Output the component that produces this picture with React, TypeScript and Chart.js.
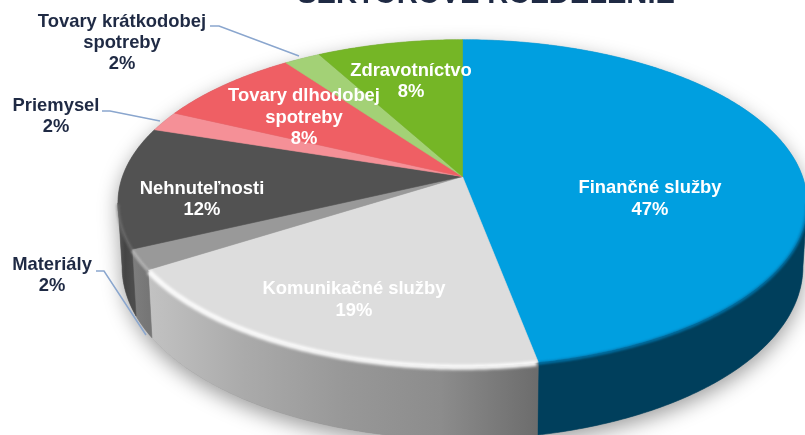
import React, { useEffect, useRef } from "react";
import { Chart, PieController, ArcElement } from "chart.js";

const TITLE = "SEKTOROVÉ ROZDELENIE";
const categories = [
  "Finančné služby",
  "Komunikačné služby",
  "Materiály",
  "Nehnuteľnosti",
  "Priemysel",
  "Tovary dlhodobej spotreby",
  "Tovary krátkodobej spotreby",
  "Zdravotníctvo",
];
const values = [47, 19, 2, 12, 2, 8, 2, 8];
const topColors = ["#009FE0", "#DDDDDD", "#999999", "#525252", "#F59097", "#EF5F64", "#A3D176", "#75B626"];

// styling / layout tables (not data)
const wallStops: string[][] = [
  ["#003F5C", "#003F5C"],
  ["#C2C2C2", "#AAAAAA", "#989898", "#8C8C8C", "#6C6C6C"],
  ["#7E7E7E", "#767676"],
  ["#5A5A5A", "#444444", "#4C4C4C"],
  ["#888888", "#888888"],
  ["#888888", "#888888"],
  ["#888888", "#888888"],
  ["#888888", "#888888"],
];
const rimColors = ["rgba(0,120,175,0.9)", "rgba(255,255,255,0.95)", "rgba(190,190,190,0.8)", "rgba(120,120,120,0.6)"];
const labelBoxes: [number, number, number, string][] = [
  [650, 188, 22, "#FFFFFF"],
  [354, 289, 22, "#FFFFFF"],
  [52, 265, 21, "#1F2A44"],
  [202, 189, 21, "#FFFFFF"],
  [56, 106, 21, "#1F2A44"],
  [304, 96, 21.5, "#FFFFFF"],
  [122, 22, 21, "#1F2A44"],
  [411, 71, 21, "#FFFFFF"],
];
const leaders: number[][][] = [
  [[210, 26], [219, 26], [299, 56]],
  [[102, 111], [110, 111], [160, 121]],
  [[96, 271], [104, 271], [146, 335]],
];

const CX = 462.5;
const CY = 176.5;
const A = 340;
const B = 159;
const K = 0.162;
const FRONT_START = Math.asin(K); // silhouette tangents in chart angles
const FRONT_END = Math.PI - FRONT_START;

function project(alpha: number): [number, number] {
  const u = Math.cos(alpha);
  const v = Math.sin(alpha);
  const w = 1 - K * v;
  return [CX + (A * u) / w, CY + (B * v) / w];
}
function projectLow(alpha: number): [number, number] {
  const [x, y] = project(alpha);
  const v = Math.sin(alpha);
  return [CX + (x - CX) * 0.988, y + 62 + 11 * v];
}
function samples(a0: number, a1: number): number[] {
  const n = Math.max(2, Math.ceil(Math.abs(a1 - a0) / 0.01));
  const out: number[] = [];
  for (let i = 0; i <= n; i++) out.push(a0 + ((a1 - a0) * i) / n);
  return out;
}
const norm = (a: number) => {
  let r = a;
  while (r < -Math.PI / 2) r += Math.PI * 2;
  return r;
};

class PerspectiveArc extends ArcElement {
  static id = "perspectiveArc";
  draw(ctx: CanvasRenderingContext2D) {
    const { startAngle, endAngle } = this as any;
    ctx.save();
    ctx.beginPath();
    ctx.moveTo(CX, CY);
    for (const a of samples(startAngle, endAngle)) {
      const [x, y] = project(a);
      ctx.lineTo(x, y);
    }
    ctx.closePath();
    ctx.fillStyle = (this as any).options.backgroundColor;
    ctx.strokeStyle = (this as any).options.backgroundColor;
    ctx.lineWidth = 0.6;
    ctx.fill();
    ctx.stroke();
    ctx.restore();
  }
}

class PerspectivePie extends PieController {
  static id = "perspectivePie";
  static defaults = { dataElementType: "perspectiveArc" };
}

Chart.register(PerspectiveArc, PerspectivePie);

const frontRange = (el: any): [number, number] | null => {
  const s = norm(el.startAngle);
  const e = s + (el.endAngle - el.startAngle);
  const a0 = Math.max(s, FRONT_START);
  const a1 = Math.min(e, FRONT_END);
  return a1 > a0 ? [a0, a1] : null;
};

const pie3d = {
  id: "pie3d",
  beforeDatasetsDraw(chart: any) {
    const ctx: CanvasRenderingContext2D = chart.ctx;
    const els = chart.getDatasetMeta(0).data;
    // soft ground shadow under the silhouette
    ctx.save();
    ctx.beginPath();
    for (const a of samples(FRONT_START, FRONT_END)) {
      const [x, y] = projectLow(a);
      ctx.lineTo(x, y);
    }
    for (const a of samples(FRONT_END, FRONT_START + Math.PI * 2)) {
      const [x, y] = project(a);
      ctx.lineTo(x, y);
    }
    ctx.closePath();
    ctx.shadowColor = "rgba(0,0,0,0.38)";
    ctx.shadowBlur = 20;
    ctx.shadowOffsetY = 7;
    ctx.fillStyle = "#888";
    ctx.fill();
    ctx.restore();
    // side walls
    els.forEach((el: any, i: number) => {
      const r = frontRange(el);
      if (!r) return;
      const pts = samples(r[0], r[1]);
      const top = pts.map(project);
      const low = pts.map(projectLow).reverse();
      const xs = top.map((p) => p[0]);
      const g = ctx.createLinearGradient(Math.min(...xs), 0, Math.max(...xs), 0);
      const stops = wallStops[i];
      // walls run right to left in angle order; stops are listed left to right
      stops.forEach((c, j) => g.addColorStop(j / (stops.length - 1), c));
      ctx.beginPath();
      top.forEach(([x, y]) => ctx.lineTo(x, y));
      low.forEach(([x, y]) => ctx.lineTo(x, y));
      ctx.closePath();
      ctx.fillStyle = g;
      ctx.strokeStyle = g;
      ctx.lineWidth = 0.6;
      ctx.fill();
      ctx.stroke();
    });
  },
  afterDatasetsDraw(chart: any) {
    const ctx: CanvasRenderingContext2D = chart.ctx;
    const els = chart.getDatasetMeta(0).data;
    // bevel along the front rim
    els.forEach((el: any, i: number) => {
      const r = frontRange(el);
      if (!r || !rimColors[i]) return;
      ctx.save();
      (ctx as any).filter = i === 1 ? "blur(1.6px)" : "blur(1.2px)";
      ctx.beginPath();
      samples(r[0] + (i === 1 ? 0.004 : 0), r[1] - (i === 1 ? 0.004 : 0)).forEach((a) => {
        const [x, y] = project(a);
        ctx.lineTo(x, y + 1);
      });
      ctx.strokeStyle = rimColors[i];
      ctx.lineWidth = i === 1 ? 5 : 3;
      ctx.lineCap = "butt";
      ctx.stroke();
      ctx.restore();
    });
  },
  afterDraw(chart: any) {
    const ctx: CanvasRenderingContext2D = chart.ctx;
    ctx.save();
    // leader lines
    ctx.strokeStyle = "#8AA6CE";
    ctx.lineWidth = 1.5;
    leaders.forEach((l) => {
      ctx.beginPath();
      l.forEach(([x, y]) => ctx.lineTo(x, y));
      ctx.stroke();
    });
    ctx.textAlign = "center";
    ctx.textBaseline = "middle";
    ctx.font = "bold 18.4px 'Liberation Sans'";
    categories.forEach((name, i) => {
      const [x, y, lh, color] = labelBoxes[i];
      let lines = [name];
      if (ctx.measureText(name).width > 215) {
        const cut = name.lastIndexOf(" ");
        lines = [name.slice(0, cut), name.slice(cut + 1)];
      }
      lines.push(values[i] + "%");
      ctx.fillStyle = color;
      lines.forEach((t, j) => ctx.fillText(t, x, y + j * lh));
    });
    // title, cut by the top of the picture
    ctx.textBaseline = "alphabetic";
    ctx.fillStyle = "#1F2A44";
    ctx.font = "bold 29.1px 'Liberation Sans'";
    ctx.fillText(TITLE, 486, 3);
    ctx.restore();
  },
};

export default function App() {
  const ref = useRef<HTMLCanvasElement>(null);
  useEffect(() => {
    const chart = new Chart(ref.current as HTMLCanvasElement, {
      type: "perspectivePie" as any,
      data: {
        labels: categories,
        datasets: [{ data: values, backgroundColor: topColors, borderWidth: 0, clip: false } as any],
      },
      options: {
        animation: false,
        responsive: false,
        events: [],
        layout: { padding: 0 },
      } as any,
      plugins: [pie3d],
    });
    return () => chart.destroy();
  }, []);
  return (
    <div style={{ position: "absolute", left: 0, top: 0, width: 805, height: 435, background: "#fff" }}>
      <canvas ref={ref} width={805} height={435} style={{ display: "block" }} />
    </div>
  );
}
